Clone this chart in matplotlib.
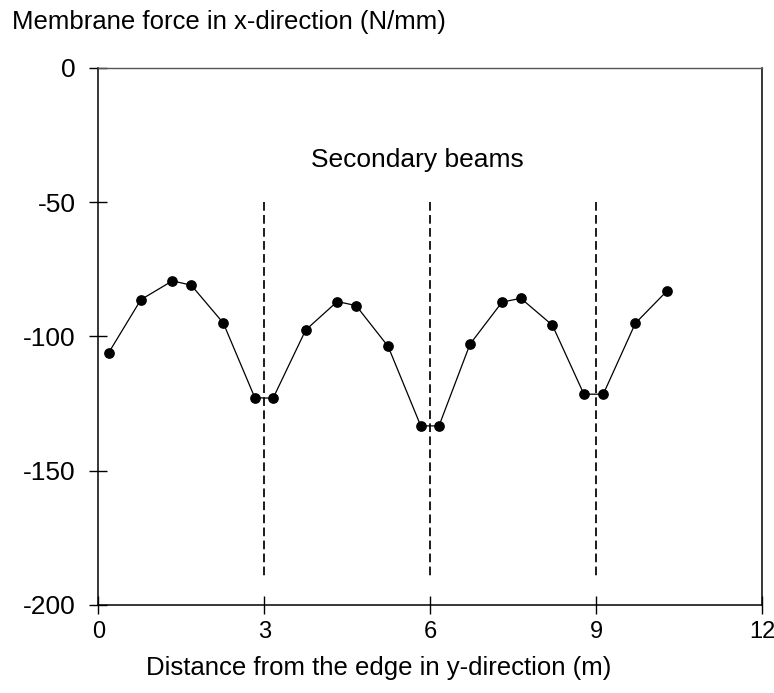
import numpy as np
import matplotlib
matplotlib.use("Agg")
import matplotlib.pyplot as plt

plt.rcParams['font.family'] = ['Liberation Sans', 'DejaVu Sans']
plt.rcParams['axes.unicode_minus'] = False

# membrane force along the edge
dist = [0.19, 0.77, 1.34, 1.68, 2.26, 2.83, 3.16,
        3.75, 4.32, 4.66, 5.24, 5.83, 6.16,
        6.72, 7.30, 7.64, 8.21, 8.78, 9.13, 9.71, 10.28]
force = [-106.0, -86.3, -79.3, -80.9, -95.0, -122.8, -123.0,
         -97.6, -87.0, -88.5, -103.7, -133.3, -133.3,
         -102.9, -87.2, -85.8, -95.8, -121.5, -121.5, -95.1, -83.1]

# secondary beam positions
beams = [3, 6, 9]
beam_top = -50
beam_bottom = -190

xticks = [0, 3, 6, 9, 12]
yticks = [0, -50, -100, -150, -200]

fig = plt.figure(figsize=(7.74, 6.93), dpi=100)
ax = fig.add_axes([0.127, 0.127, 0.8575, 0.775])

for b in beams:
    ax.plot([b, b], [beam_top, beam_bottom], color='black', lw=1.25,
            dashes=(5, 2.5))

ax.plot(dist, force, '-o', color='black', lw=0.9, ms=6.7, zorder=5)

ax.text(5.76, -37, "Secondary beams", ha='center', va='baseline', size=19)

ax.set_xlim(0, 12)
ax.set_ylim(-200, 0)
ax.set_xticks(xticks)
ax.set_yticks(yticks)
ax.tick_params(direction='inout', length=12.5, width=1, labelsize=19)
ax.tick_params(axis='x', pad=5, labelsize=17)
ax.tick_params(axis='y', pad=10)

for s in ['left', 'bottom', 'right']:
    ax.spines[s].set_linewidth(1.1)
    ax.spines[s].set_color('black')
ax.spines['top'].set_linewidth(1.0)
ax.spines['top'].set_color('#555555')

fig.text(12 / 774, 1 - 22 / 693, "Membrane force in x-direction (N/mm)",
         ha='left', va='center', size=18.5)
fig.text(379 / 774, 1 - 668 / 693, "Distance from the edge in y-direction (m)",
         ha='center', va='center', size=18.5)

fig.savefig("out.png", dpi=100)
